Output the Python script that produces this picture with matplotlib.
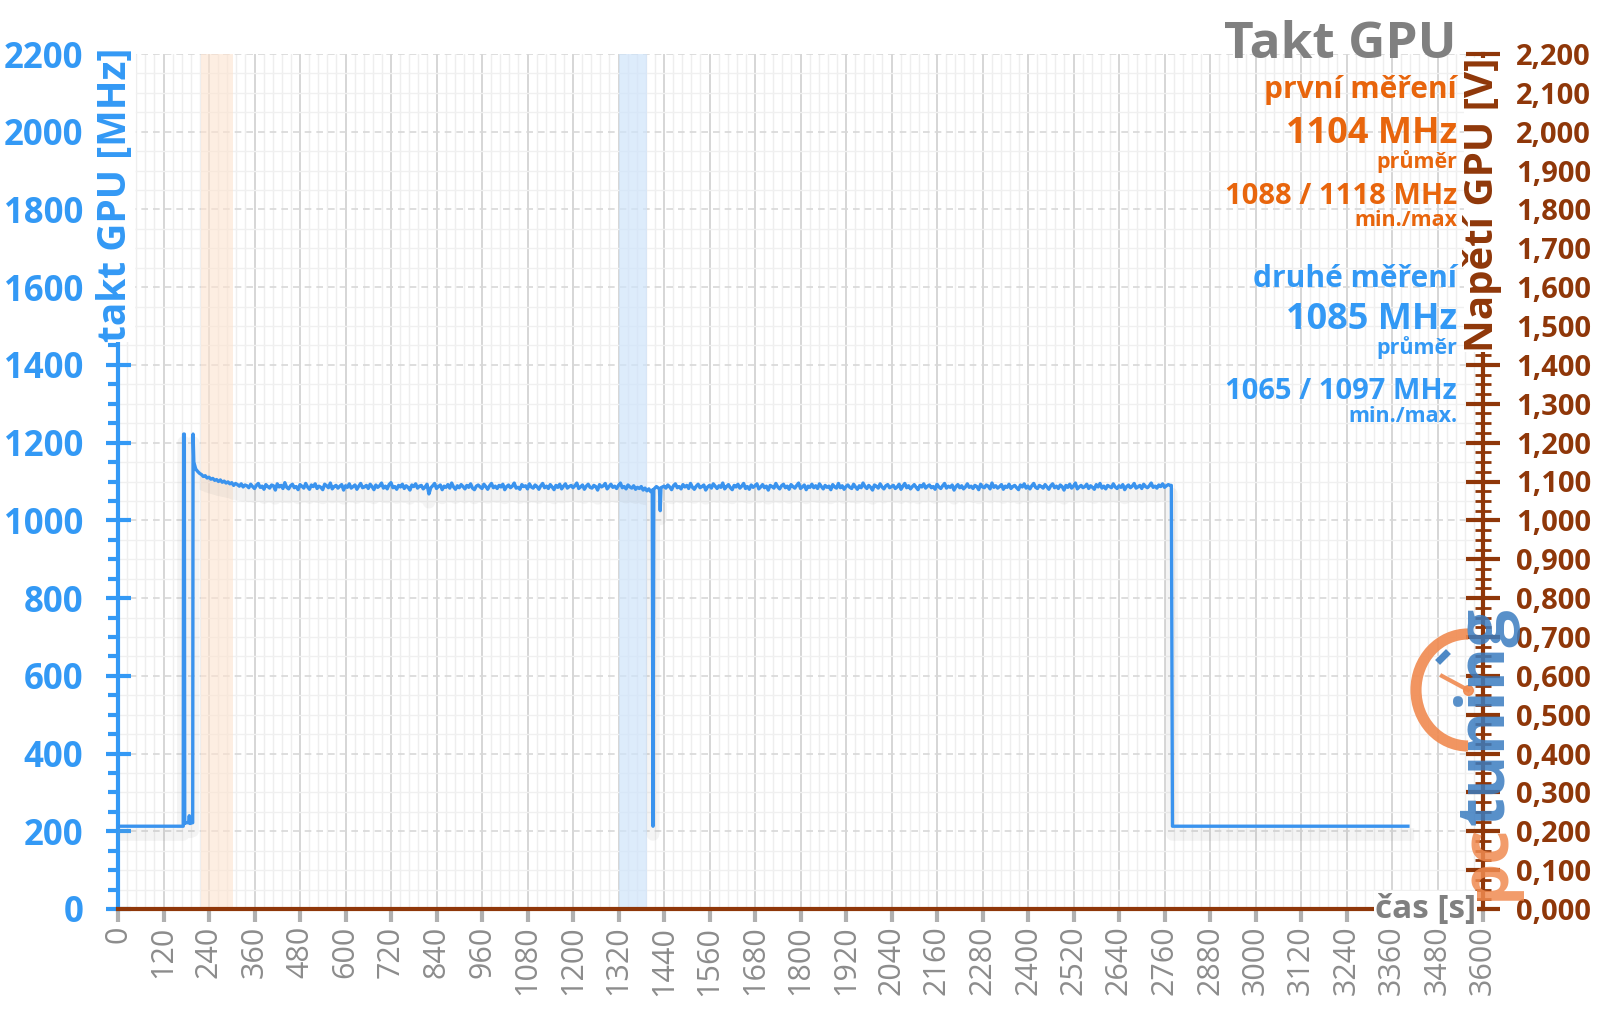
import numpy as np
import matplotlib
matplotlib.use("Agg")
import matplotlib.pyplot as plt
import matplotlib.patheffects as pe
from matplotlib.patches import Arc
from matplotlib.ticker import MultipleLocator, FuncFormatter

plt.rcParams['font.family'] = ['Open Sans', 'DejaVu Sans']

BLUE = "#3399f5"
LINE = "#3a93ee"
ORANGE = "#e8650c"
BROWN = "#8f3709"
GRAY = "#808080"

# --- data ---
start_t = [0, 172, 173, 175, 176, 177, 186, 188, 190, 196, 197, 198]
start_v = [213, 213, 1222, 1222, 220, 222, 222, 240, 220, 222, 222, 1222]

# 200 .. 1395 s, every 5 s
main1_t = np.arange(200, 1400, 5)
main1_v = np.array("""
1150 1132 1126 1121 1118 1113 1115 1109 1111 1106 1108 1103 1105 1100 1104 1098 1101 1096 1099 1094
1097 1090 1095 1092 1088 1094 1086 1091 1089 1084 1093 1087 1082 1090 1095 1085 1088 1080 1092 1087
1083 1091 1089 1078 1094 1086 1090 1082 1097 1085 1081 1089 1093 1084 1087 1079 1092 1088 1083 1095
1086 1080 1091 1087 1094 1082 1088 1085 1079 1093 1089 1084 1096 1081 1087 1090 1083 1088 1092 1078
1089 1085 1094 1083 1087 1091 1080 1088 1095 1084 1086 1090 1082 1093 1087 1079 1091 1085 1089 1096
1083 1088 1081 1092 1097 1084 1087 1080 1090 1086 1093 1082 1089 1085 1078 1091 1087 1094 1083 1088
1090 1081 1086 1093 1068 1084 1089 1095 1082 1087 1091 1079 1088 1085 1092 1083 1096 1086 1080 1089
1084 1092 1087 1081 1090 1085 1094 1083 1079 1088 1091 1086 1082 1093 1087 1080 1089 1095 1084 1088
1082 1090 1086 1093 1079 1087 1091 1084 1088 1096 1083 1085 1080 1092 1087 1089 1081 1094 1086 1083
1091 1087 1080 1089 1095 1084 1088 1082 1092 1086 1079 1090 1085 1093 1081 1088 1094 1083 1087 1090
1084 1089 1096 1082 1086 1091 1080 1088 1093 1085 1083 1090 1087 1078 1092 1086 1089 1095 1081 1087
1093 1085 1088 1082 1090 1096 1084 1087 1081 1091 1086 1083 1089 1080 1085 1082 1087 1078 1083 1076
""".split(), dtype=float)

dip_t = [1400, 1405, 1409, 1411, 1413, 1420, 1428, 1430, 1432]
dip_v = [1081, 1074, 1078, 213, 1080, 1087, 1081, 1025, 1084]

# 1440 .. 2775 s, every 5 s
main2_t = np.arange(1440, 2780, 5)
main2_v = np.array("""
1088 1083 1091 1086 1079 1089 1094 1084 1087 1081 1092 1086 1090 1082 1095 1085 1080 1088 1093 1084
1087 1091 1078 1086 1090 1083 1094 1088 1082 1089 1085 1096 1081 1087 1092 1084 1079 1090 1086 1093
1083 1088 1095 1082 1087 1080 1091 1085 1089 1094 1081 1086 1092 1084 1088 1078 1090 1087 1083 1095
1086 1081 1089 1093 1084 1088 1080 1092 1087 1083 1090 1096 1082 1086 1091 1079 1088 1085 1093 1084
1089 1082 1094 1087 1081 1090 1085 1088 1079 1092 1086 1083 1095 1084 1089 1080 1087 1091 1085 1082
1093 1086 1080 1089 1084 1096 1087 1082 1090 1085 1078 1091 1088 1083 1094 1086 1081 1089 1092 1084
1087 1090 1082 1086 1093 1080 1088 1095 1084 1089 1081 1087 1092 1085 1079 1090 1086 1094 1083 1088
1091 1084 1087 1080 1093 1086 1082 1089 1095 1083 1088 1085 1091 1078 1087 1092 1084 1089 1081 1086
1094 1085 1088 1082 1090 1087 1079 1093 1086 1084 1091 1088 1081 1096 1085 1089 1083 1087 1092 1080
1088 1085 1093 1082 1087 1090 1084 1079 1091 1086 1094 1083 1088 1081 1089 1095 1085 1082 1090 1087
1083 1092 1086 1080 1089 1094 1084 1088 1082 1091 1087 1078 1090 1085 1093 1083 1088 1096 1081 1086
1090 1084 1087 1093 1082 1089 1085 1080 1092 1086 1095 1083 1088 1081 1090 1087 1084 1094 1086 1082
1089 1085 1092 1079 1087 1091 1084 1088 1095 1083 1086 1090 1082 1093 1087 1084 1089 1096 1085 1088
1083 1091 1087 1094 1085 1089 1092 1090
""".split(), dtype=float)

end_t = [2778, 2781, 3402]
end_v = [1090, 213, 213]

band1 = (220, 302)     # první měření
band2 = (1320, 1395)   # druhé měření

takt_t = np.concatenate([start_t, main1_t, dip_t, main2_t, end_t])
takt_v = np.concatenate([start_v, main1_v, dip_v, main2_v, end_v])

W, H = 1600, 1009
fig = plt.figure(figsize=(16, 10.09), dpi=100)
L, R, B, T = 118, 1483, 909, 54
ax = fig.add_axes([L / W, 1 - B / H, (R - L) / W, (B - T) / H])

ax.set_xlim(0, 3600)
ax.set_ylim(0, 2200)

ax.axvspan(*band1, color="#fde3cf", alpha=0.6, lw=0, zorder=1)
ax.axvspan(*band2, color="#cfe4fa", alpha=0.7, lw=0, zorder=1)

# grid
ax.xaxis.set_major_locator(MultipleLocator(120))
ax.xaxis.set_minor_locator(MultipleLocator(24))
ax.yaxis.set_major_locator(MultipleLocator(200))
ax.yaxis.set_minor_locator(MultipleLocator(50))
ax.grid(which='major', axis='x', color='#d6d6d6', lw=1.4)
ax.grid(which='minor', axis='x', color='#eeeeee', lw=1)
ax.grid(which='major', axis='y', color='#d8d8d8', lw=1.2, ls=(0, (4, 3)))
ax.grid(which='minor', axis='y', color='#f0f0f0', lw=1)
ax.set_axisbelow(True)

ax.plot(takt_t, takt_v, color=LINE, lw=2.4, zorder=4,
        path_effects=[pe.SimpleLineShadow(offset=(0, -6), shadow_color='0.6', alpha=0.1, linewidth=9),
                      pe.Normal()])
ax.plot([0, 3600], [0, 0], color=BROWN, lw=3, zorder=5, clip_on=False)

for s in ['top', 'right', 'bottom']:
    ax.spines[s].set_visible(False)
ax.spines['left'].set_color(BLUE)
ax.spines['left'].set_linewidth(3)

ax.tick_params(axis='y', which='major', direction='inout', length=18, width=3, color=BLUE,
               labelcolor=BLUE, labelsize=25, pad=16)
ax.tick_params(axis='y', which='minor', direction='out', length=7, width=3, color=BLUE)
for lab in ax.get_yticklabels():
    lab.set_fontweight('bold')
ax.tick_params(axis='x', which='major', direction='out', length=9, width=3, color='#b0b0b0',
               labelcolor='#8c8c8c', labelsize=22, labelrotation=90, pad=3)
ax.tick_params(axis='x', which='minor', length=0)
ax.set_xticks(np.arange(0, 3601, 120))

# right axis
ax2 = ax.twinx()
ax2.set_ylim(0, 2.2)
ax2.yaxis.set_major_locator(MultipleLocator(0.1))
ax2.yaxis.set_minor_locator(MultipleLocator(0.025))
ax2.yaxis.set_major_formatter(FuncFormatter(lambda v, p: f"{v:.3f}".replace('.', ',')))
for s in ['top', 'left', 'bottom']:
    ax2.spines[s].set_visible(False)
ax2.spines['right'].set_color(BROWN)
ax2.spines['right'].set_linewidth(3)
ax2.tick_params(axis='y', which='major', direction='inout', length=24, width=3, color=BROWN,
                labelcolor=BROWN, labelsize=21, pad=12)
ax2.tick_params(axis='y', which='minor', direction='inout', length=12, width=2, color=BROWN)
for lab in ax2.get_yticklabels():
    lab.set_fontweight('bold')


def px(x, y):
    return x / W, 1 - y / H


# axis titles
fig.text(*px(116, 195), "takt GPU [MHz]", rotation=90, ha='center', va='center',
         color=BLUE, fontsize=28, fontweight='bold', zorder=10,
         bbox=dict(facecolor='white', edgecolor='none', pad=0))
fig.text(*px(1483, 205), "Napětí GPU [V]", rotation=90, ha='center', va='center',
         color=BROWN, fontsize=29, fontweight='bold', zorder=10,
         bbox=dict(facecolor='white', edgecolor='none', pad=0))
fig.text(*px(1476, 909), "čas [s]", ha='right', va='center', color=GRAY, fontsize=24,
         fontweight='bold', zorder=10,
         bbox=dict(facecolor='white', edgecolor='none', pad=1))

# right side annotations
xr = 1457
notes = [
    ("Takt GPU", 45, 37, GRAY),
    ("první měření", 90, 21.5, ORANGE),
    ("1104 MHz", 134, 26, ORANGE),
    ("průměr", 162, 15.5, ORANGE),
    ("1088 / 1118 MHz", 197, 21, ORANGE),
    ("min./max", 221, 15.5, ORANGE),
    ("druhé měření", 279, 21.5, BLUE),
    ("1085 MHz", 320, 26, BLUE),
    ("průměr", 348, 15.5, BLUE),
    ("1065 / 1097 MHz", 392, 21, BLUE),
    ("min./max.", 417, 15.5, BLUE),
]
for txt, y, fs, col in notes:
    fig.text(*px(xr, y), txt, ha='right', va='center', color=col, fontsize=fs,
             fontweight='bold', zorder=10)

# pctuning watermark
lax = fig.add_axes([0, 0, 1, 1], facecolor='none')
lax.set_xlim(0, W)
lax.set_ylim(H, 0)
lax.axis('off')
lax.add_patch(Arc((1468, 690), 104, 112, theta1=90, theta2=270, color='#f08a50', lw=8, alpha=0.9))
lax.plot([1442, 1468], [676, 690], color='#f08a50', lw=3, alpha=0.9)
lax.plot([1468], [690], 'o', color='#f08a50', ms=7, alpha=0.9)
lax.plot([1440, 1446], [660, 654], color='#3a7cc0', lw=5, alpha=0.9)
lax.text(1486, 900, "pc", rotation=90, ha='center', va='bottom', color='#f08a50',
         fontsize=48, fontweight='bold', alpha=0.85, zorder=12)
lax.text(1486, 825, "tuning", rotation=90, ha='center', va='bottom', color='#3a7cc0',
         fontsize=48, fontweight='bold', alpha=0.85, zorder=12)

fig.savefig("out.png", dpi=100, facecolor='white')
